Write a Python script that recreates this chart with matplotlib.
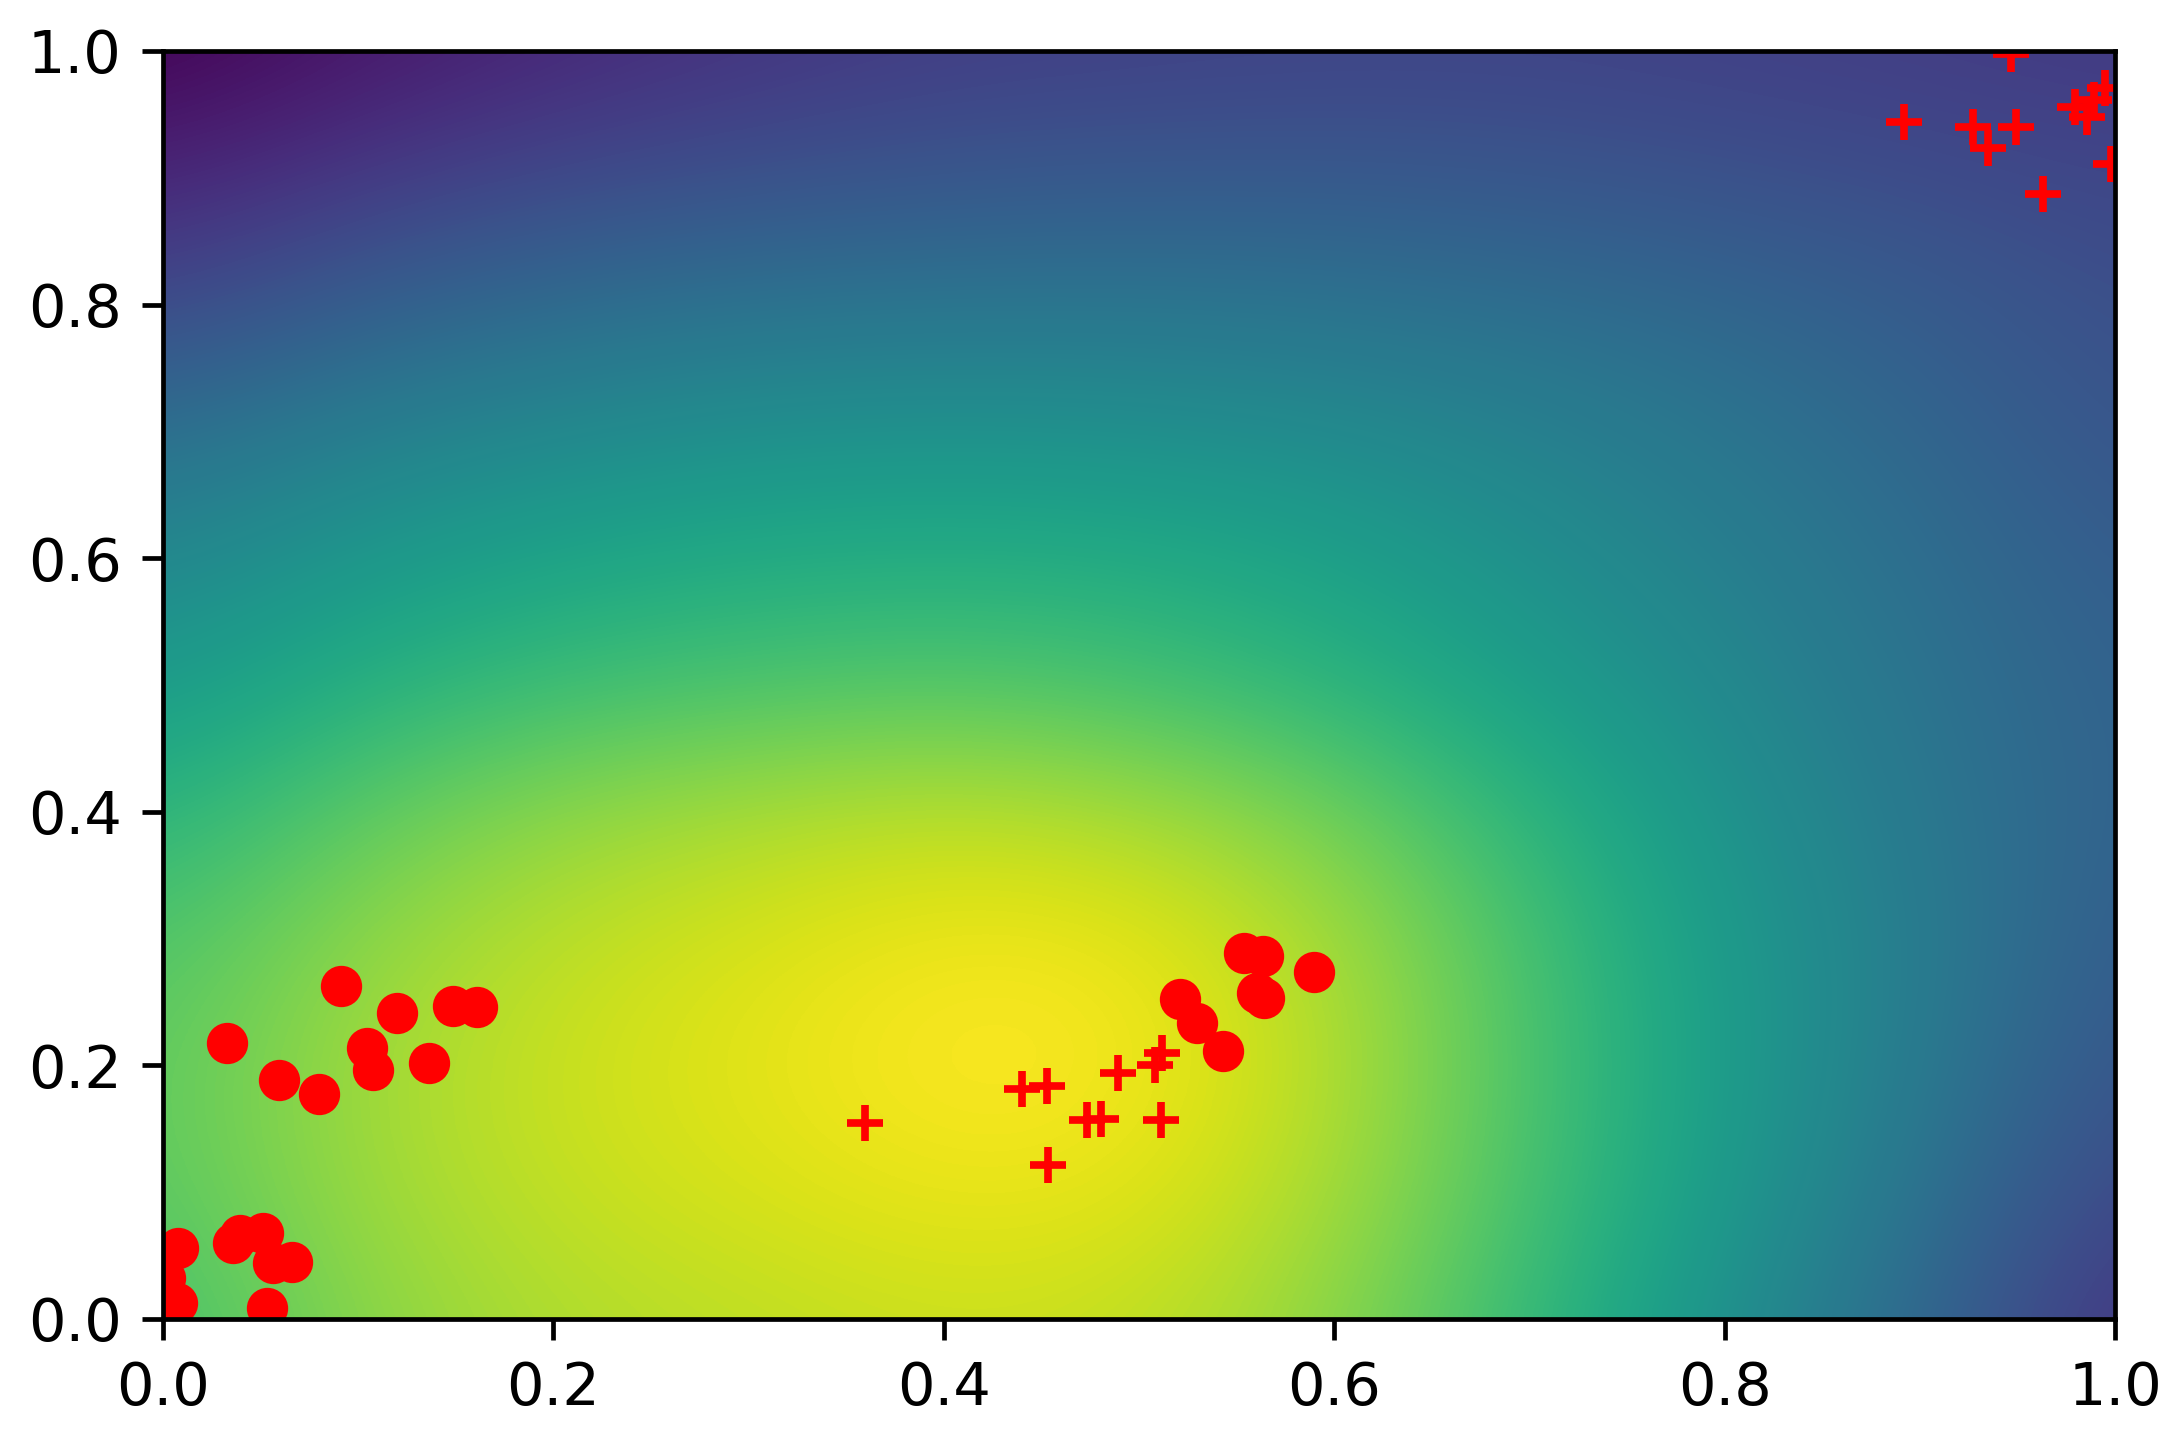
import numpy as np
import matplotlib
matplotlib.use("Agg")
import matplotlib.pyplot as plt

# Background field values (rows: y = 0.0 .. 1.0, cols: x = 0.0 .. 1.0)
grid_x = [0.0, 0.1, 0.2, 0.3, 0.4, 0.5, 0.6, 0.7, 0.8, 0.9, 1.0]
grid_y = [0.0, 0.1, 0.2, 0.3, 0.4, 0.5, 0.6, 0.7, 0.8, 0.9, 1.0]
field = [
    [0.70, 0.82, 0.88, 0.90, 0.92, 0.91, 0.83, 0.67, 0.50, 0.33, 0.15],
    [0.74, 0.85, 0.91, 0.94, 0.97, 0.96, 0.87, 0.71, 0.54, 0.38, 0.21],
    [0.75, 0.86, 0.92, 0.96, 1.00, 0.99, 0.89, 0.72, 0.55, 0.41, 0.26],
    [0.72, 0.83, 0.90, 0.94, 0.98, 0.97, 0.87, 0.71, 0.54, 0.42, 0.29],
    [0.64, 0.75, 0.83, 0.87, 0.90, 0.87, 0.79, 0.65, 0.51, 0.40, 0.31],
    [0.54, 0.63, 0.69, 0.72, 0.74, 0.71, 0.65, 0.56, 0.47, 0.38, 0.31],
    [0.46, 0.53, 0.58, 0.61, 0.62, 0.61, 0.57, 0.50, 0.43, 0.36, 0.29],
    [0.36, 0.43, 0.47, 0.50, 0.51, 0.50, 0.48, 0.44, 0.39, 0.33, 0.26],
    [0.22, 0.30, 0.35, 0.38, 0.39, 0.39, 0.38, 0.36, 0.33, 0.29, 0.24],
    [0.10, 0.17, 0.22, 0.25, 0.27, 0.28, 0.28, 0.27, 0.25, 0.23, 0.21],
    [0.00, 0.06, 0.11, 0.15, 0.18, 0.19, 0.20, 0.20, 0.19, 0.18, 0.17],
]

# Circle markers
circle_x = [0.0912, 0.1199, 0.1486, 0.1609, 0.0328, 0.1045, 0.1076, 0.1363, 0.0594, 0.0799,
            0.0078, 0.0360, 0.0394, 0.0514, 0.0565, 0.0659, 0.0531, 0.0010, 0.0070,
            0.5540, 0.5633, 0.5607, 0.5638, 0.5896, 0.5208, 0.5297, 0.5430]
circle_y = [0.2626, 0.2413, 0.2468, 0.2461, 0.2177, 0.2137, 0.1964, 0.2019, 0.1885, 0.1774,
            0.0557, 0.0597, 0.0662, 0.0676, 0.0439, 0.0452, 0.0084, 0.0320, 0.0130,
            0.2884, 0.2860, 0.2569, 0.2529, 0.2734, 0.2522, 0.2333, 0.2116]

# Plus markers
plus_x = [0.3594, 0.4399, 0.4530, 0.4534, 0.4732, 0.4803, 0.4893, 0.5082, 0.5118, 0.5114,
          0.9466, 0.8920, 0.9270, 0.9350, 0.9493, 0.9633, 0.9795, 0.9855, 0.9890, 0.9950, 0.9980]
plus_y = [0.1543, 0.1811, 0.1840, 0.1214, 0.1569, 0.1575, 0.1940, 0.2003, 0.2100, 0.1569,
          0.9980, 0.9443, 0.9403, 0.9233, 0.9403, 0.8872, 0.9560, 0.9477, 0.9610, 0.9710, 0.9110]

tick_vals = [0.0, 0.2, 0.4, 0.6, 0.8, 1.0]

DPI = 425
fig = plt.figure(figsize=(2177 / DPI, 1445 / DPI), dpi=DPI)
ax = fig.add_axes([163 / 2177, 126 / 1445, (2115 - 163) / 2177, (1319 - 51) / 1445])

Z = np.array(field)
dx = (grid_x[1] - grid_x[0]) / 2
dy = (grid_y[1] - grid_y[0]) / 2
ax.imshow(Z, origin="lower", cmap="viridis", vmin=0.0, vmax=1.0, aspect="auto",
          interpolation="bicubic",
          extent=(grid_x[0] - dx, grid_x[-1] + dx, grid_y[0] - dy, grid_y[-1] + dy))

ax.scatter(circle_x, circle_y, c="r", marker="o", s=36)
ax.scatter(plus_x, plus_y, c="r", marker="+", s=36, linewidths=1.3)

ax.set_xlim(0, 1)
ax.set_ylim(0, 1)
ax.set_xticks(tick_vals)
ax.set_yticks(tick_vals)

fig.savefig("out.png", dpi=DPI)
